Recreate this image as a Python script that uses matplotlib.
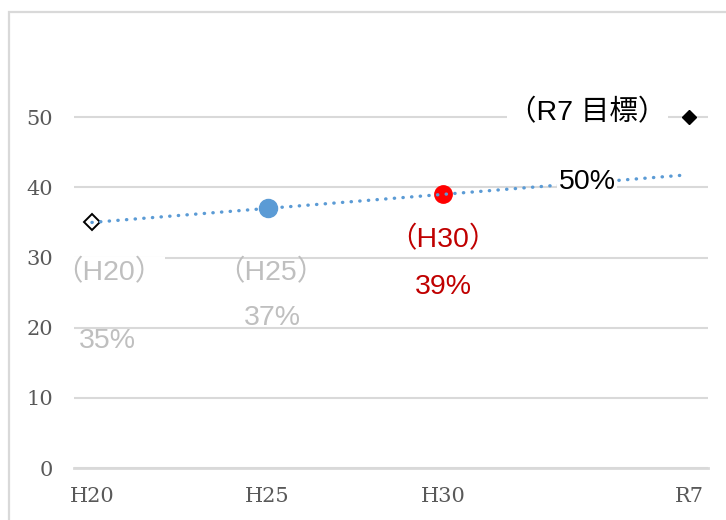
import matplotlib
matplotlib.use("Agg")
import matplotlib.pyplot as plt
from matplotlib.patches import Rectangle
import numpy as np

# données
annees = [2008, 2013, 2018, 2025]
etiquettes = ["H20", "H25", "H30", "R7"]
valeurs = [35, 37, 39, 50]
noms_points = ["（H20）", "（H25）", "（H30）", "（R7 目標）"]

GRIS = "#D9D9D9"
BLEU = "#5B9BD5"
sans = ["Liberation Sans", "Noto Sans CJK JP"]

fig = plt.figure(figsize=(7.26, 5.2), dpi=100)
fig.patches.append(Rectangle((9 / 726, -0.5), 2, 1.5 - 12 / 520, transform=fig.transFigure,
                             fill=False, ec=GRIS, lw=1.6))

ax = fig.add_axes([74 / 726, 1 - 468 / 520, (708 - 74) / 726, (468 - 47) / 520])
ax.set_xlim(2007.49, 2025.54)
ax.set_ylim(0, 60)

# grille
ax.set_yticks(range(0, 51, 10))
ax.yaxis.grid(True, color=GRIS, lw=1.5)
ax.set_axisbelow(True)
for s in ["left", "right", "top"]:
    ax.spines[s].set_visible(False)
ax.spines["bottom"].set_color(GRIS)
ax.spines["bottom"].set_linewidth(2.0)

ax.set_xticks(annees)
ax.set_xticklabels(etiquettes)
ax.tick_params(length=0, labelsize=15, labelcolor="#595959")
ax.tick_params(axis="x", pad=14)
ax.tick_params(axis="y", pad=15)
for t in ax.get_xticklabels() + ax.get_yticklabels():
    t.set_family("DejaVu Serif")

# points
ax.plot(annees[0], valeurs[0], "D", ms=8, mfc="white", mec="black", mew=1.4, zorder=3)
ax.plot(annees[1], valeurs[1], "o", ms=13, color=BLEU, zorder=3)
ax.plot(annees[2], valeurs[2], "o", ms=12.5, color="#FF0000", zorder=3)
ax.plot(annees[3], valeurs[3], "D", ms=7.5, color="black", zorder=3)

# courbe de tendance (moindres carres sur H20-H30)
a, b = np.polyfit(annees[:3], valeurs[:3], 1)
xt = np.array([annees[0], annees[-1] - 0.2])
ax.plot(xt, a * xt + b, color=BLEU, lw=2.4, linestyle=(0, (0.1, 2.5)),
        dash_capstyle="round", zorder=4)

# etiquettes
couleurs = ["#BFBFBF", "#BFBFBF", "#C00000", "black"]
pos_nom = [(2008.48, 27.9), (2013.1, 27.9), (2018.0, 32.5), (2022.1, 50.7)]
pos_val = [(2008.43, 18.1), (2013.13, 21.4), (2018.0, 25.8), (2022.1, 40.7)]
fond_nom = [True, False, False, True]
fond_val = [False, False, False, True]
for i in range(4):
    bb = dict(fc="white", ec="none", pad=1) if fond_nom[i] else None
    ax.text(pos_nom[i][0], pos_nom[i][1], noms_points[i], ha="center", va="center",
            fontsize=20.5, color=couleurs[i], family=sans, bbox=bb, zorder=5)
    bb = dict(fc="white", ec="none", pad=1) if fond_val[i] else None
    ax.text(pos_val[i][0], pos_val[i][1], f"{valeurs[i]}%", ha="center", va="center",
            fontsize=20.5, color=couleurs[i], family=sans, bbox=bb, zorder=5)

plt.savefig("out.png", dpi=100)
